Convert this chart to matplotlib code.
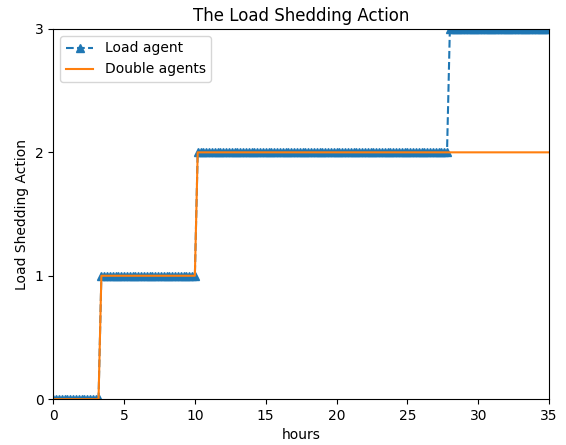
import numpy as np
import matplotlib
matplotlib.use("Agg")
import matplotlib.pyplot as plt

# time grid (hours) of the simulation, one step every 0.2 h
hours = np.round(np.arange(0, 35.0001, 0.2), 2)

# step levels: (start hour, action level)
load_agent_steps = [(0.0, 0), (3.4, 1), (10.2, 2), (28.0, 3)]
double_agent_steps = [(0.0, 0), (3.4, 1), (10.2, 2)]


def build_series(steps):
    vals = np.zeros_like(hours)
    for start, level in steps:
        vals[hours >= start - 1e-9] = level
    return vals


load_agent = build_series(load_agent_steps)
double_agents = build_series(double_agent_steps)

fig = plt.figure(figsize=(5.66, 4.45), dpi=100)
ax = fig.add_axes([0.094, 0.103, 0.876, 0.832])

ax.plot(hours, load_agent, '--^', color='#1f77b4', markersize=6, label='Load agent')
ax.plot(hours, double_agents, '-', color='#ff7f0e', label='Double agents')

ax.set_xlim(0, 35)
ax.set_ylim(0, 3)
ax.set_yticks([0, 1, 2, 3])
ax.set_xticks([0, 5, 10, 15, 20, 25, 30, 35])
ax.set_title('The Load Shedding Action')
ax.set_xlabel('hours')
ax.set_ylabel('Load Shedding Action')
ax.legend(loc='upper left')

fig.savefig("out.png")
